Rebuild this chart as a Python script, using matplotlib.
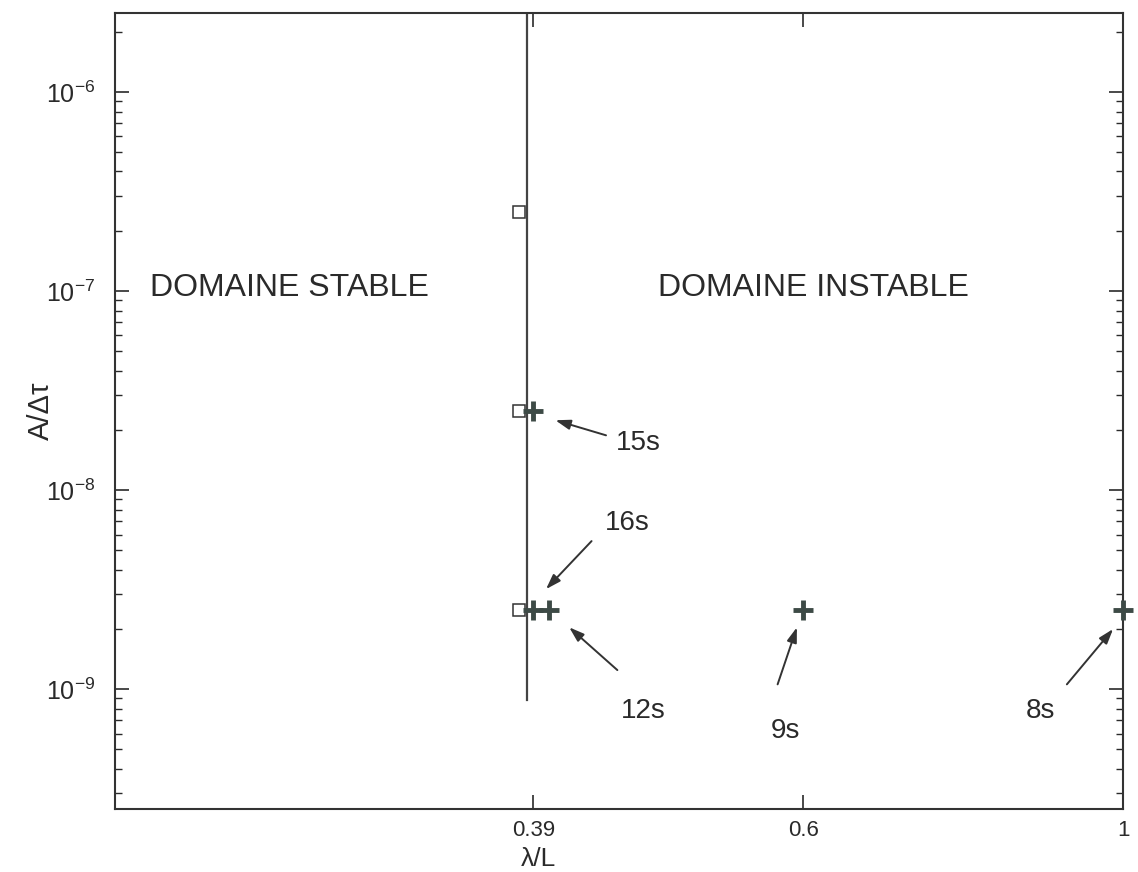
import math
import matplotlib
matplotlib.use("Agg")
import matplotlib.pyplot as plt
from matplotlib.ticker import FixedLocator, FixedFormatter, LogLocator, NullLocator, FuncFormatter

plt.rcParams['font.family'] = ['Liberation Sans', 'DejaVu Sans']
plt.rcParams['mathtext.fontset'] = 'custom'
plt.rcParams['mathtext.rm'] = 'Liberation Sans'
plt.rcParams['mathtext.it'] = 'Liberation Sans:italic'

# limite stable / instable (trait vertical)
limit_x = [0.386, 0.386]
limit_y = [2.5e-6, 8.8e-10]

# points stables (carres)
stable_x = [0.381, 0.381, 0.381]
stable_y = [2.5e-7, 2.5e-8, 2.5e-9]

# points instables (croix)
unstable_x = [0.39, 0.39, 0.40, 0.6, 1.0]
unstable_y = [2.5e-8, 2.5e-9, 2.5e-9, 2.5e-9, 2.5e-9]

# annotations : texte, position texte, queue fleche, tete fleche
ann_labels = ["15s", "16s", "12s", "9s", "8s"]
ann_text_xy = [(0.461, 1.73e-8), (0.453, 6.84e-9), (0.465, 7.77e-10), (0.583, 6.17e-10), (0.876, 7.77e-10)]
ann_tail_xy = [(0.438, 1.89e-8), (0.428, 5.56e-9), (0.446, 1.25e-9), (0.576, 1.06e-9), (0.914, 1.06e-9)]
ann_head_xy = [(0.404, 2.25e-8), (0.398, 3.19e-9), (0.413, 2.05e-9), (0.594, 2.05e-9), (0.984, 2.01e-9)]

xticks = [0.39, 0.6, 1.0]
xticklabels = ["0.39", "0.6", "1"]
yticks = [1e-9, 1e-8, 1e-7, 1e-6]

fig = plt.figure(figsize=(11.38, 8.72), dpi=100)
ax = fig.add_axes([0.101, 0.072, 0.886, 0.913])

ink = "#2a2a2a"
mk = "#3d4a46"

ax.plot(limit_x, limit_y, color="#444444", lw=1.6)
ax.plot(stable_x, stable_y, ls="none", marker="s", ms=8, mfc="white", mec="#333333", mew=1.1)
ax.plot(unstable_x, unstable_y, ls="none", marker="+", ms=15, mec=mk, mew=3.5, clip_on=False, zorder=5)

for lab, t, a, h in zip(ann_labels, ann_text_xy, ann_tail_xy, ann_head_xy):
    ax.annotate("", xy=h, xytext=a,
                arrowprops=dict(arrowstyle="-|>,head_length=0.9,head_width=0.3",
                                color="#333333", lw=1.4, shrinkA=0, shrinkB=0))
    ax.text(t[0], t[1], lab, fontsize=20, color=ink, ha="center", va="center")

ax.text(0.2115, 1.04e-7, "DOMAINE STABLE", fontsize=23, color=ink, ha="left", va="center")
ax.text(0.476, 1.04e-7, "DOMAINE INSTABLE", fontsize=23, color=ink, ha="left", va="center")

ax.set_xscale("log")
ax.set_yscale("log")
ax.set_xlim(0.2, 1.0)
ax.set_ylim(2.5e-10, 2.5e-6)

ax.xaxis.set_major_locator(FixedLocator(xticks))
ax.xaxis.set_major_formatter(FixedFormatter(xticklabels))
ax.xaxis.set_minor_locator(NullLocator())
ax.yaxis.set_major_locator(FixedLocator(yticks))
ax.yaxis.set_major_formatter(FuncFormatter(lambda v, p: r"$10^{%d}$" % round(math.log10(v))))
ax.yaxis.set_minor_locator(LogLocator(base=10, subs=range(2, 10)))

ax.tick_params(which="both", direction="in", top=True, right=True, colors=ink)
ax.tick_params(which="major", length=10, width=1.2)
ax.tick_params(which="minor", length=5, width=1.0)
ax.tick_params(axis="x", labelsize=16, pad=8)
ax.tick_params(axis="y", labelsize=18, pad=14)
for s in ax.spines.values():
    s.set_color("#333333")
    s.set_linewidth(1.5)

ax.set_xlabel("λ/L", fontsize=19, color=ink, va="center")
ax.xaxis.set_label_coords(0.42, -0.063)
ax.set_ylabel("A/Δτ", fontsize=21, color=ink, va="center")
ax.yaxis.set_label_coords(-0.073, 0.5)

fig.savefig("out.png", dpi=100)
